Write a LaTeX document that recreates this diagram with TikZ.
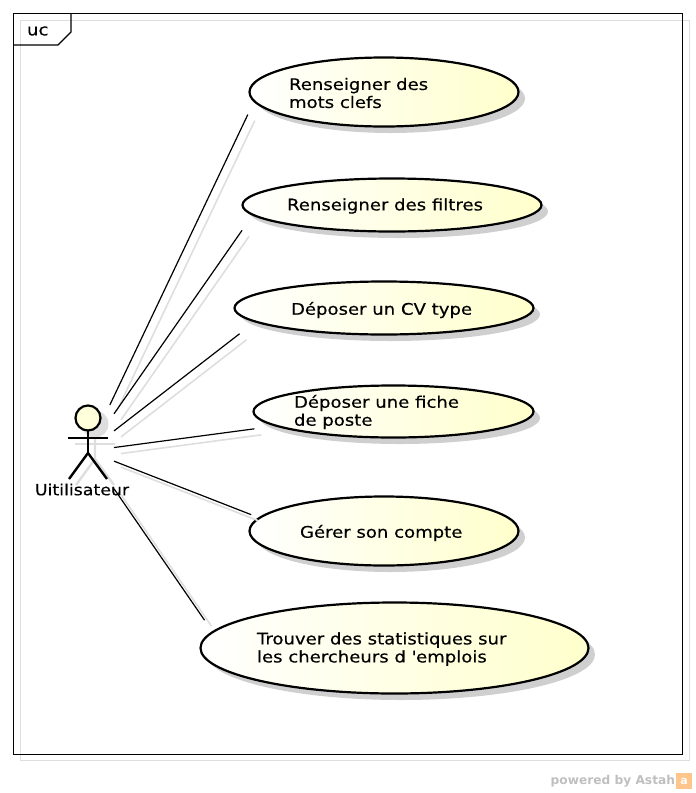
\documentclass[tikz,border=0pt]{standalone}
\usepackage{fontspec}
\setmainfont{DejaVu Sans}[FakeStretch=1.13,FakeBold=0.35]
\newfontfamily\markfont{DejaVu Sans Bold}
\usetikzlibrary{shapes.geometric,shadows,positioning}
\definecolor{ucyellow}{HTML}{FFFFCC}
\definecolor{linegray}{HTML}{DEDEDE}
\definecolor{casegray}{HTML}{CFCFCF}

\begin{document}
\begin{tikzpicture}[x=1pt,y=-1pt,
  every node/.style={inner sep=0pt,outer sep=0pt},
  ucnode/.style={ellipse,draw=black,line width=2.2pt,left color=white,right color=ucyellow,
  drop shadow={shadow xshift=6.5pt,shadow yshift=-6.5pt,opacity=1,fill=casegray}},
  uctext/.style={anchor=west,align=left,font=\fontsize{16}{18}\selectfont},
  assoc/.style={line width=1.2pt,preaction={draw=linegray,line width=1.6pt,transform canvas={xshift=7pt,yshift=-6pt}}},
  limb/.style={line width=2.4pt},
  limbshadow/.style={line width=2.4pt,draw=linegray},
]
\useasboundingbox (0,0) rectangle (696,793);

% the frame
\draw[linegray,line width=1.2pt] (20.5,20.5) rectangle (689.5,760.5);
\draw[line width=1.3pt] (13.5,13.5) rectangle (682.5,754.2);
\coordinate (tabA) at (13.5,45);
\coordinate (tabB) at (58,45);
\coordinate (tabC) at (71,32);
\coordinate (tabD) at (71,13.5);
\draw[line width=1.3pt] (tabA) -- (tabB) -- (tabC) -- (tabD);
\node[uctext] (tabtext) at (27,31) {uc};

% the use cases
\node[ucnode,minimum width=269pt,minimum height=69pt] (keywords) at (384,92) {};
\node[ucnode,minimum width=299pt,minimum height=53pt] (filters) at (392,205) {};
\node[ucnode,minimum width=299pt,minimum height=53pt] (resume) at (384,308) {};
\node[ucnode,minimum width=280pt,minimum height=52pt] (jobsheet) at (393.5,411.5) {};
\node[ucnode,minimum width=269pt,minimum height=69pt] (account) at (384,531) {};
\node[ucnode,minimum width=388pt,minimum height=91pt] (stats) at (394.5,648) {};

\node[uctext] (keywordstext) at (289,93) {Renseigner des\\mots clefs};
\node[uctext] (filterstext) at (287,206) {Renseigner des filtres};
\node[uctext] (resumetext) at (291,310) {Déposer un CV type};
\node[uctext] (jobsheettext) at (294,412) {Déposer une fiche\\de poste};
\node[uctext] (accounttext) at (300,533) {Gérer son compte};
\node[uctext] (statstext) at (257,649) {Trouver des statistiques sur\\les chercheurs d \textquotesingle emplois};

% the actor
\begin{scope}[xshift=7pt,yshift=-6pt]
\node[circle,fill=linegray,minimum size=27pt] (headshadow) at (88,418) {};
\draw[limbshadow] (68,438) -- (108,438);
\draw[limbshadow] (88,431) -- (88,453) -- (69,479);
\draw[limbshadow] (88,453) -- (107,479);
\end{scope}
\node[circle,draw=black,line width=2.2pt,fill=ucyellow!70!white,minimum size=25pt] (head) at (88,418) {};
\coordinate (armL) at (68,438);
\coordinate (armR) at (108,438);
\coordinate (hip) at (88,453);
\coordinate (legL) at (69,479);
\coordinate (legR) at (107,479);
\draw[limb] (armL) -- (armR);
\draw[limb] (head) -- (hip);
\draw[limb] (legL) -- (hip) -- (legR);
\node[font=\fontsize{15.4}{18}\selectfont] (actorname) at (82,489.5) {Uitilisateur};
\node[minimum width=52pt,minimum height=92pt] (actor) at (88,451) {};

% the associations
\draw[assoc,shorten >=15pt] (actor) -- (keywords.184.8);
\draw[assoc,shorten >=19pt] (actor) -- (filters.184.3);
\draw[assoc,shorten >=20pt] (actor) -- (resume.186);
\draw[assoc,shorten >=22.5pt] (actor) -- (jobsheet.187.1);
\draw[assoc,shorten >=9pt] (actor) -- (account.174.2);
\draw[assoc,shorten >=14.5pt] (actor) -- (stats.175.7);

% the mark
\node[anchor=east,text=black!25,font=\markfont\fontsize{12.2}{15}\selectfont] (mark) at (675,781) {powered by Astah};
\node[fill=orange!45!white,minimum size=16pt,text=white,font=\markfont\fontsize{11}{11}\selectfont] (markicon) at (684,781) {a};
\end{tikzpicture}
\end{document}
